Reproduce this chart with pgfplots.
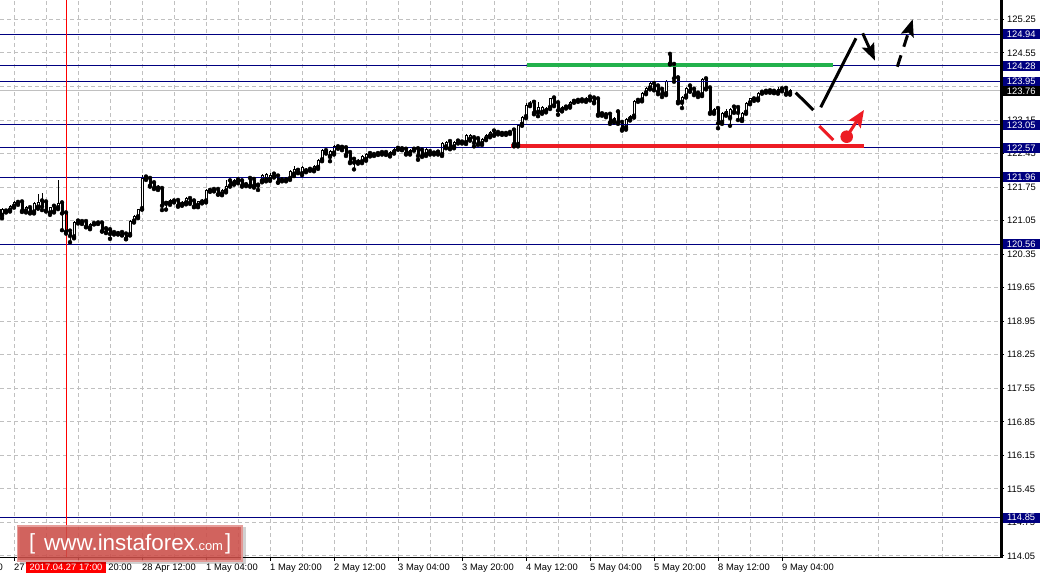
\documentclass[border=0pt]{standalone}
\usepackage{fontspec}
\setmainfont{Liberation Sans}
\usepackage{pgfplots}
\pgfplotsset{compat=1.18}
\usepackage{pgfplotstable}
\usetikzlibrary{arrows.meta}
\definecolor{navy}{RGB}{0,0,128}
\definecolor{gridgray}{RGB}{192,192,192}
\definecolor{pgreen}{RGB}{34,177,76}
\definecolor{pred}{RGB}{237,28,36}
\definecolor{wmred}{RGB}{210,80,75}

% hourly candles, x = position on the time axis (4 units per hour)
\pgfplotstableread{
x o h l c
2 121.15 121.31 121.10 121.29
6 121.24 121.29 121.22 121.27
10 121.26 121.38 121.24 121.36
14 121.34 121.47 121.32 121.43
18 121.42 121.45 121.38 121.41
22 121.43 121.44 121.23 121.25
26 121.24 121.35 121.22 121.33
30 121.31 121.33 121.20 121.22
34 121.22 121.43 121.20 121.41
38 121.32 121.61 121.30 121.43
42 121.45 121.62 121.27 121.34
46 121.43 121.45 121.24 121.26
50 121.20 121.34 121.17 121.33
54 121.34 121.36 121.22 121.24
58 121.31 121.90 121.29 121.41
62 121.41 121.43 120.85 121.20
66 121.20 121.22 120.78 120.82
70 120.82 120.84 120.60 120.73
74 120.70 121.05 120.68 121.03
78 121.03 121.05 120.99 121.02
82 121.02 121.04 120.98 121.00
86 121.02 121.03 120.91 120.92
90 120.89 120.99 120.87 120.97
94 120.98 121.02 120.97 120.99
98 120.99 121.04 120.98 121.01
102 120.99 121.01 120.82 120.83
106 120.87 120.88 120.79 120.81
110 120.85 120.86 120.67 120.77
114 120.79 120.81 120.76 120.78
118 120.77 120.83 120.76 120.80
122 120.79 120.80 120.74 120.75
126 120.76 120.77 120.66 120.67
130 120.75 121.06 120.74 121.04
134 121.03 121.17 121.01 121.15
138 121.12 121.30 121.10 121.29
142 121.29 122.01 121.28 121.95
146 121.95 121.99 121.90 121.93
150 121.92 121.94 121.76 121.78
154 121.83 121.85 121.71 121.73
158 121.72 121.80 121.69 121.77
162 121.71 121.73 121.27 121.36
166 121.40 121.47 121.28 121.45
170 121.41 121.50 121.38 121.48
174 121.45 121.48 121.43 121.46
178 121.46 121.47 121.34 121.36
182 121.38 121.45 121.36 121.43
186 121.41 121.54 121.39 121.52
190 121.50 121.51 121.40 121.43
194 121.45 121.46 121.33 121.34
198 121.36 121.47 121.33 121.45
202 121.43 121.50 121.41 121.48
206 121.45 121.71 121.43 121.69
210 121.67 121.72 121.65 121.70
214 121.69 121.71 121.66 121.68
218 121.69 121.71 121.59 121.60
222 121.60 121.71 121.58 121.69
226 121.66 121.90 121.64 121.78
230 121.87 121.89 121.76 121.78
234 121.82 121.92 121.80 121.90
238 121.89 121.91 121.83 121.86
242 121.87 121.89 121.76 121.78
246 121.79 121.86 121.77 121.84
250 121.92 121.94 121.76 121.78
254 121.90 121.92 121.74 121.78
258 121.78 121.84 121.69 121.82
262 121.87 122.03 121.85 122.01
266 121.89 122.05 121.87 122.03
270 121.90 122.04 121.88 122.01
274 122.01 122.03 121.95 121.97
278 121.97 121.99 121.84 121.85
282 121.89 121.93 121.87 121.91
286 121.89 121.96 121.87 121.94
290 121.92 122.10 121.90 122.08
294 122.01 122.18 121.98 122.12
298 122.09 122.11 122.04 122.06
302 122.02 122.18 122.00 122.17
306 122.08 122.14 122.06 122.11
310 122.11 122.16 122.09 122.14
314 122.10 122.21 122.08 122.18
318 122.15 122.33 122.13 122.31
322 122.31 122.54 122.29 122.52
326 122.50 122.53 122.45 122.47
330 122.38 122.52 122.29 122.50
334 122.45 122.63 122.43 122.61
338 122.58 122.62 122.55 122.60
342 122.57 122.60 122.52 122.55
346 122.56 122.58 122.40 122.42
350 122.46 122.48 122.25 122.27
354 122.32 122.34 122.12 122.26
358 122.26 122.34 122.24 122.32
362 122.27 122.41 122.25 122.39
366 122.32 122.46 122.30 122.44
370 122.44 122.46 122.39 122.41
374 122.42 122.46 122.40 122.44
378 122.44 122.48 122.42 122.46
382 122.46 122.48 122.43 122.45
386 122.46 122.48 122.42 122.44
390 122.41 122.51 122.39 122.49
394 122.47 122.56 122.45 122.54
398 122.55 122.57 122.53 122.55
402 122.54 122.56 122.52 122.53
406 122.53 122.55 122.43 122.45
410 122.45 122.55 122.43 122.53
414 122.53 122.56 122.51 122.54
418 122.54 122.56 122.32 122.40
422 122.51 122.53 122.38 122.40
426 122.42 122.56 122.40 122.54
430 122.48 122.50 122.43 122.45
434 122.45 122.49 122.43 122.47
438 122.47 122.49 122.43 122.45
442 122.42 122.69 122.40 122.67
446 122.58 122.72 122.56 122.70
450 122.69 122.71 122.54 122.56
454 122.58 122.72 122.56 122.70
458 122.70 122.72 122.66 122.68
462 122.68 122.72 122.66 122.70
466 122.67 122.85 122.65 122.83
470 122.74 122.86 122.72 122.84
474 122.77 122.80 122.60 122.67
478 122.75 122.77 122.63 122.65
482 122.65 122.77 122.63 122.75
486 122.75 122.86 122.73 122.84
490 122.81 122.93 122.79 122.91
494 122.91 122.93 122.82 122.84
498 122.88 122.90 122.85 122.87
502 122.86 122.89 122.84 122.87
506 122.86 122.91 122.84 122.89
510 122.88 122.93 122.86 122.91
514 122.93 122.95 122.60 122.65
518 122.63 123.07 122.60 123.05
522 123.05 123.23 123.03 123.21
526 123.21 123.50 123.19 123.46
530 123.46 123.55 123.44 123.50
534 123.51 123.53 123.27 123.30
538 123.30 123.53 123.23 123.43
542 123.30 123.45 123.28 123.43
546 123.33 123.42 123.31 123.40
550 123.40 123.62 123.38 123.60
554 123.60 123.62 123.44 123.46
558 123.50 123.52 123.26 123.35
562 123.35 123.45 123.33 123.43
566 123.41 123.46 123.39 123.43
570 123.43 123.55 123.41 123.53
574 123.53 123.58 123.51 123.56
578 123.55 123.58 123.53 123.56
582 123.56 123.60 123.54 123.58
586 123.55 123.64 123.53 123.62
590 123.62 123.64 123.56 123.58
594 123.60 123.62 123.50 123.52
598 123.58 123.60 123.24 123.26
602 123.27 123.31 123.24 123.28
606 123.25 123.27 123.21 123.23
610 123.26 123.28 123.07 123.10
614 123.12 123.21 123.10 123.19
618 123.31 123.33 123.07 123.10
622 123.09 123.11 122.93 122.96
626 122.98 123.19 122.95 123.17
630 123.16 123.25 123.14 123.23
634 123.22 123.57 123.20 123.55
638 123.55 123.60 123.53 123.57
642 123.56 123.73 123.54 123.71
646 123.71 123.83 123.69 123.81
650 123.81 123.94 123.79 123.92
654 123.90 123.93 123.77 123.79
658 123.85 123.87 123.69 123.74
662 123.78 123.80 123.63 123.69
666 123.69 123.99 123.67 123.97
670 124.51 124.55 124.31 124.33
674 124.30 124.32 123.95 124.02
678 124.02 124.04 123.50 123.53
682 123.51 123.65 123.40 123.63
686 123.64 123.83 123.62 123.81
690 123.85 123.87 123.74 123.76
694 123.78 123.80 123.67 123.69
698 123.70 123.72 123.63 123.68
702 123.67 124.02 123.65 124.00
706 124.00 124.02 123.79 123.81
710 123.81 123.83 123.28 123.30
714 123.30 123.41 123.28 123.38
718 123.38 123.40 122.98 123.08
722 123.09 123.31 123.07 123.29
726 123.27 123.37 123.24 123.34
730 123.19 123.41 123.03 123.39
734 123.41 123.43 123.30 123.32
738 123.40 123.42 123.15 123.30
742 123.15 123.32 123.13 123.30
746 123.30 123.53 123.28 123.51
750 123.50 123.62 123.48 123.60
754 123.58 123.63 123.55 123.60
758 123.58 123.74 123.56 123.72
762 123.72 123.77 123.70 123.74
766 123.74 123.77 123.72 123.75
770 123.75 123.77 123.72 123.74
774 123.74 123.76 123.71 123.73
778 123.72 123.84 123.70 123.80
782 123.79 123.81 123.75 123.77
786 123.80 123.82 123.68 123.70
790 123.70 123.79 123.68 123.77
}\candles

\newcommand{\lblfont}{\fontsize{9.4}{10}\selectfont}

\begin{document}
\begin{tikzpicture}[x=1bp,y=1bp]
\useasboundingbox (0,0) rectangle (1043,576);
\begin{axis}[
  at={(0bp,18bp)}, anchor=south west,
  scale only axis, width=1001bp, height=558bp,
  xmin=0, xmax=1001, ymin=114.007, ymax=125.656,
  axis line style={draw=none},
  xtick={14,78,142,206,270,334,398,462,526,590,654,718,782},
  xticklabels={27 Apr 04:00,27 Apr 20:00,28 Apr 12:00,1 May 04:00,1 May 20:00,2 May 12:00,3 May 04:00,3 May 20:00,4 May 12:00,5 May 04:00,5 May 20:00,8 May 12:00,9 May 04:00},
  minor xtick={46,110,...,974},
  ytick={114.05,114.75,115.45,116.15,116.85,117.55,118.25,118.95,119.65,120.35,121.05,121.75,122.45,123.15,123.85,124.55,125.25},
  yticklabels={114.05,114.75,115.45,116.15,116.85,117.55,118.25,118.95,119.65,120.35,121.05,121.75,122.45,123.15,123.85,124.55,125.25},
  scaled ticks=false,
  xtick pos=left, ytick pos=right, yticklabel pos=right,
  tick align=outside, major tick length=3bp, minor tick length=0pt,
  tick style={black, line width=1bp},
  xmajorgrids, xminorgrids, ymajorgrids,
  major grid style={gridgray, line width=1bp, dash pattern=on 4bp off 3bp},
  minor grid style={gridgray, line width=1bp, dash pattern=on 4bp off 3bp},
  ticklabel style={font=\lblfont, inner sep=0pt},
  xticklabel style={anchor=base west, yshift=-10bp},
  yticklabel style={anchor=west, xshift=3bp},
]
% bid line
\addplot[gridgray, line width=1bp, forget plot] coordinates {(0,123.76) (1001,123.76)};
% wicks
\addplot[only marks, mark=none, forget plot,
  error bars/.cd, y dir=plus, y explicit, error mark=none,
  error bar style={draw=black, line width=1bp}]
  table[x=x, y=l, y error expr=\thisrow{h}-\thisrow{l}] {\candles};
% bodies (black outer)
\addplot[only marks, mark=none, forget plot,
  error bars/.cd, y dir=plus, y explicit, error mark=none,
  error bar style={draw=black, line width=3bp}]
  table[x=x, y expr={min(\thisrow{o},\thisrow{c})}, y error expr={max(abs(\thisrow{c}-\thisrow{o}),0.021)}] {\candles};
% bodies (white inner, bullish candles)
\addplot[only marks, mark=none, forget plot,
  error bars/.cd, y dir=plus, y explicit, error mark=none,
  error bar style={draw=white, line width=1bp}]
  table[x=x, y expr={\thisrow{o}+0.021}, y error expr={max(\thisrow{c}-\thisrow{o}-0.042,0)}] {\candles};
% level lines
\addplot[navy, line width=1bp, forget plot] coordinates {(0,124.94) (1001,124.94)};
\addplot[navy, line width=1bp, forget plot] coordinates {(0,124.28) (1001,124.28)};
\addplot[navy, line width=1bp, forget plot] coordinates {(0,123.95) (1001,123.95)};
\addplot[navy, line width=1bp, forget plot] coordinates {(0,123.05) (1001,123.05)};
\addplot[navy, line width=1bp, forget plot] coordinates {(0,122.57) (1001,122.57)};
\addplot[navy, line width=1bp, forget plot] coordinates {(0,121.96) (1001,121.96)};
\addplot[navy, line width=1bp, forget plot] coordinates {(0,120.56) (1001,120.56)};
\addplot[navy, line width=1bp, forget plot] coordinates {(0,114.85) (1001,114.85)};
% red time marker
\addplot[red, line width=1bp, forget plot] coordinates {(66.5,114.007) (66.5,125.656)};
% support / resistance segments
\addplot[pgreen, line width=3.5bp, forget plot] coordinates {(527,124.299) (833,124.299)};
\addplot[pred, line width=3.5bp, forget plot] coordinates {(511,122.608) (864,122.608)};
% forecast arrows
\draw[black, line width=3bp] (axis cs:795.7,123.721) -- (axis cs:813.3,123.360);
\draw[black, line width=3bp] (axis cs:820.7,123.416) -- (axis cs:856,124.856);
\draw[black, line width=3bp, -{Stealth[length=17bp,width=13bp,inset=3bp]}] (axis cs:862.7,124.961) -- (axis cs:875,124.389);
\draw[black, line width=3bp, dash pattern=on 12bp off 9bp, -{Stealth[length=17bp,width=13bp,inset=3bp]}] (axis cs:897.3,124.263) -- (axis cs:912.7,125.253);
\draw[pred, line width=3bp] (axis cs:819.3,123.026) -- (axis cs:833.3,122.733);
\draw[pred, line width=3bp, -{Stealth[length=17bp,width=14bp,inset=3bp]}] (axis cs:846.7,122.802) -- (axis cs:864,123.360);
\fill[pred] (axis cs:846.7,122.802) circle[radius=6.3bp];
% bottom axis line
\draw[black, line width=1bp] (rel axis cs:0,0) -- (rel axis cs:1,0);
\coordinate (L1) at (axis cs:1001,124.94);
\coordinate (L2) at (axis cs:1001,124.28);
\coordinate (L3) at (axis cs:1001,123.95);
\coordinate (L4) at (axis cs:1001,123.76);
\coordinate (L5) at (axis cs:1001,123.05);
\coordinate (L6) at (axis cs:1001,122.57);
\coordinate (L7) at (axis cs:1001,121.96);
\coordinate (L8) at (axis cs:1001,120.56);
\coordinate (L9) at (axis cs:1001,114.85);
\end{axis}
% right axis line
\draw[black, line width=2.7bp] (1001.3,18) -- (1001.3,576);
% price level labels
\tikzset{lvl/.style={fill=navy, text=white, anchor=west, minimum width=36.6bp, minimum height=9.8bp, inner sep=0pt, font=\lblfont}}
\node[lvl] at ([xshift=1.7bp]L1) {124.94};
\node[lvl] at ([xshift=1.7bp]L2) {124.28};
\node[lvl] at ([xshift=1.7bp]L3) {123.95};
\node[lvl, fill=black] at ([xshift=1.7bp]L4) {123.76};
\node[lvl] at ([xshift=1.7bp]L5) {123.05};
\node[lvl] at ([xshift=1.7bp]L6) {122.57};
\node[lvl] at ([xshift=1.7bp]L7) {121.96};
\node[lvl] at ([xshift=1.7bp]L8) {120.56};
\node[lvl] at ([xshift=1.7bp]L9) {114.85};
% time labels
\node[anchor=base west, inner sep=0pt, font=\lblfont] at (-51,5.5) {26 Apr 12:00};
\node[fill=red, text=white, minimum width=80bp, minimum height=11bp, inner sep=0pt, font=\lblfont] at (66,8.8) {2017.04.27 17:00};
% watermark
\fill[black, opacity=0.18] (19.5,11.5) rectangle (246,48.5);
\fill[wmred, opacity=0.85] (16.7,14.3) rectangle (243,51);
\draw[white, opacity=0.35, line width=1.5bp] (17.5,15.1) rectangle (242.2,50.2);
\node[anchor=base west, inner sep=0pt, text=white, font=\fontsize{22}{22}\selectfont] at (29,26) {[};
\node[anchor=base west, inner sep=0pt, text=white, font=\fontsize{22.5}{22.5}\selectfont] at (44,25.3) {www.instaforex{\fontsize{13}{13}\selectfont .com}};
\node[anchor=base west, inner sep=0pt, text=white, font=\fontsize{22}{22}\selectfont] at (225,26) {]};
\end{tikzpicture}
\end{document}
